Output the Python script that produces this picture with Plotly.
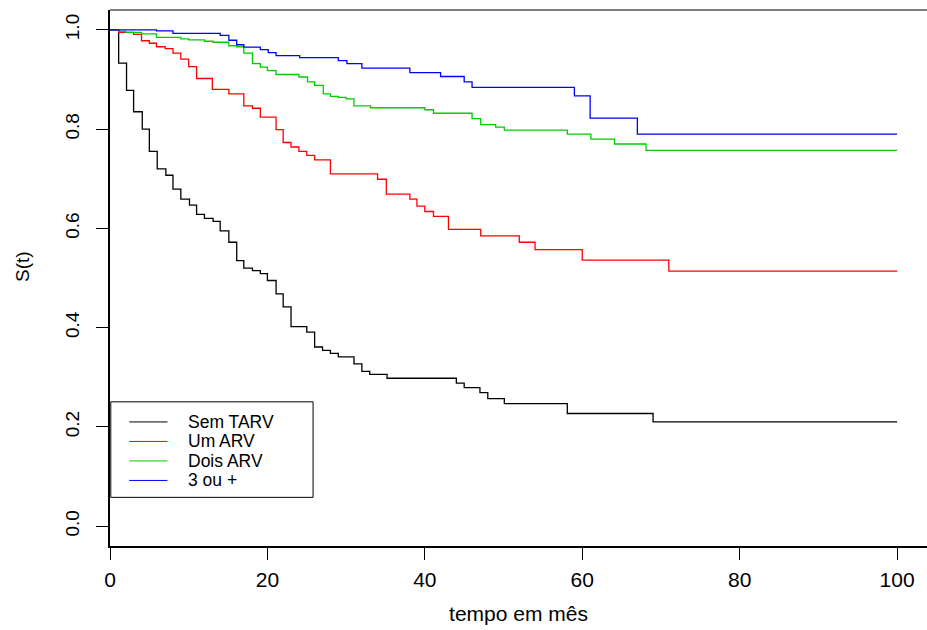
import plotly.graph_objects as go

# Kaplan-Meier step data (time in months, survival)
sem_tarv_t = [0, 1.1, 2.1, 3.0, 4.1, 5.0, 6.0, 7.1, 8.0, 9.0, 10.1, 11.0, 12.0, 13.1, 14.0, 15.1, 16.1, 17.0,
              18.1, 19.1, 20.0, 21.1, 22.0, 23.0, 25.0, 26.0, 27.0, 28.0, 29.0, 31.0, 32.0, 33.0, 35.2, 44.0,
              45.0, 47.0, 48.0, 50.1, 58.1, 69.0, 100]
sem_tarv_s = [1.0, 0.933, 0.878, 0.835, 0.800, 0.755, 0.720, 0.707, 0.679, 0.659, 0.647, 0.628, 0.620, 0.614,
              0.595, 0.572, 0.535, 0.520, 0.515, 0.509, 0.495, 0.468, 0.442, 0.402, 0.391, 0.361, 0.354, 0.348,
              0.341, 0.327, 0.312, 0.306, 0.298, 0.288, 0.279, 0.269, 0.257, 0.247, 0.227, 0.210, 0.210]

um_arv_t = [0, 1.1, 3.0, 4.0, 5.0, 5.9, 7.0, 8.0, 9.0, 10.0, 11.0, 13.0, 15.1, 17.0, 18.1, 19.1, 21.1, 22.0,
            23.0, 24.0, 25.0, 26.0, 28.0, 34.0, 35.1, 38.1, 39.0, 40.0, 41.1, 43.0, 47.1, 52.0, 54.0, 60.0,
            71.0, 100]
um_arv_s = [1.0, 0.995, 0.991, 0.978, 0.973, 0.966, 0.962, 0.953, 0.941, 0.926, 0.902, 0.880, 0.871, 0.847,
            0.842, 0.824, 0.799, 0.773, 0.764, 0.755, 0.747, 0.738, 0.710, 0.699, 0.669, 0.659, 0.645, 0.634,
            0.624, 0.598, 0.585, 0.572, 0.557, 0.536, 0.514, 0.514]

dois_arv_t = [0, 1.2, 2.0, 4.0, 5.9, 9.0, 10.0, 12.0, 13.1, 15.1, 16.1, 17.0, 18.1, 19.1, 20.0, 21.1, 24.0,
              25.1, 26.0, 27.1, 28.0, 29.0, 30.0, 31.0, 33.1, 40.0, 41.1, 46.0, 47.1, 49.0, 50.1, 58.1, 61.1,
              64.1, 68.1, 100]
dois_arv_s = [1.0, 0.997, 0.995, 0.992, 0.985, 0.982, 0.980, 0.977, 0.975, 0.968, 0.966, 0.953, 0.932, 0.925,
              0.918, 0.910, 0.905, 0.895, 0.888, 0.871, 0.866, 0.864, 0.861, 0.847, 0.843, 0.839, 0.832, 0.821,
              0.809, 0.804, 0.798, 0.790, 0.780, 0.770, 0.757, 0.757]

tres_t = [0, 5.9, 8.0, 14.0, 15.1, 16.1, 17.0, 19.1, 20.1, 21.1, 24.1, 29.0, 30.1, 32.0, 38.1, 42.0, 45.0,
          46.0, 59.0, 61.0, 67.0, 100]
tres_s = [1.0, 0.998, 0.993, 0.989, 0.979, 0.970, 0.965, 0.960, 0.954, 0.948, 0.944, 0.938, 0.932, 0.923,
          0.914, 0.906, 0.895, 0.884, 0.867, 0.822, 0.790, 0.790]

series_names = ["Sem TARV", "Um ARV", "Dois ARV", "3 ou +"]
series_colors = ["#000000", "#FF0000", "#00CD00", "#0000FF"]
series_t = [sem_tarv_t, um_arv_t, dois_arv_t, tres_t]
series_s = [sem_tarv_s, um_arv_s, dois_arv_s, tres_s]

x_ticks = [0, 20, 40, 60, 80, 100]
y_ticks = [0.0, 0.2, 0.4, 0.6, 0.8, 1.0]
y_ticklabels = ["0.0", "0.2", "0.4", "0.6", "0.8", "1.0"]

FONT = "Liberation Sans, Arial, sans-serif"

fig = go.Figure()
for name, col, t, s in zip(series_names, series_colors, series_t, series_s):
    fig.add_trace(go.Scatter(x=t, y=s, mode="lines", name=name,
                             line=dict(color=col, width=1.3, shape="hv"),
                             showlegend=False, hoverinfo="x+y+name"))

# Legend drawn like R's legend() box
shapes = [
    dict(type="line", xref="paper", yref="paper", x0=0, x1=1, y0=1, y1=1,
         line=dict(color="black", width=1)),
    dict(type="rect", xref="x", yref="y", x0=0.1, x1=25.8, y0=0.058, y1=0.2505,
         line=dict(color="black", width=1), fillcolor="rgba(0,0,0,0)"),
]
annotations = []
row_y = [0.210, 0.1707, 0.1314, 0.0921]
for name, col, ry in zip(series_names, series_colors, row_y):
    shapes.append(dict(type="line", xref="x", yref="y", x0=2.45, x1=7.3, y0=ry, y1=ry,
                       line=dict(color=col, width=1)))
    annotations.append(dict(x=9.8, y=ry, xref="x", yref="y", text=name, showarrow=False,
                            xanchor="left", yanchor="middle", borderpad=0, height=18,
                            font=dict(family=FONT, size=17.5, color="black")))

# y-axis title placed like R's ylab
annotations.append(dict(x=-88 / 817, y=0.5205, xref="paper", yref="paper", text="S(t)",
                        showarrow=False, textangle=-90, xanchor="center", yanchor="middle",
                        font=dict(family=FONT, size=19, color="black")))

fig.update_layout(
    width=927, height=630,
    margin=dict(l=110, r=0, t=10, b=84),
    paper_bgcolor="white", plot_bgcolor="white",
    font=dict(family=FONT, size=19, color="black"),
    shapes=shapes, annotations=annotations,
    showlegend=False,
    xaxis=dict(range=[0, 103.8], tickvals=x_ticks, ticks="outside", ticklen=12, tickwidth=1,
               tickcolor="black", showline=True, linecolor="black", linewidth=1.5,
               showgrid=False, zeroline=False, ticklabelstandoff=2,
               tickfont=dict(family=FONT, size=21, color="black"),
               title=dict(text="tempo em mês", standoff=16,
                          font=dict(family=FONT, size=21, color="black"))),
    yaxis=dict(range=[-0.04, 1.04], tickvals=y_ticks, ticktext=y_ticklabels, tickangle=-90,
               ticks="outside", ticklen=12, tickwidth=1, tickcolor="black",
               showline=True, linecolor="black", linewidth=1.5, showgrid=False, zeroline=False,
               ticklabelstandoff=10,
               tickfont=dict(family=FONT, size=19, color="black")),
)

fig.write_html("out.html")
